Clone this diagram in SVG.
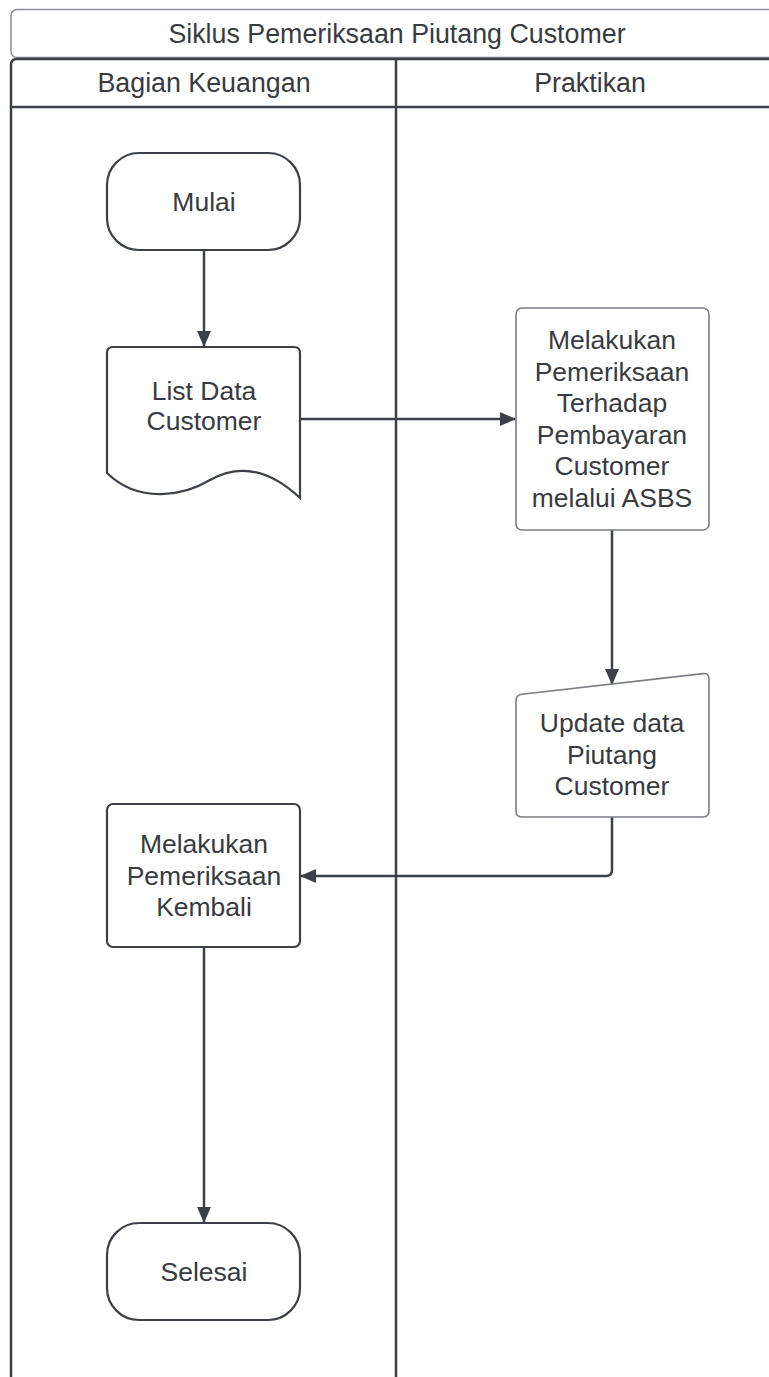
<svg xmlns="http://www.w3.org/2000/svg" width="769" height="1377" viewBox="0 0 769 1377">
  <defs>
    <style>
      .lbl { font-family: "Liberation Sans", Arial, sans-serif; font-size: 26.5px; fill: #383b40; text-anchor: middle; }
      .hdr { font-size: 26.8px; }
      .lane { fill: none; stroke: #3d4147; stroke-width: 2.5; }
      .node { fill: #ffffff; stroke: #3d4147; stroke-width: 2.2; }
      .node-light { fill: #ffffff; stroke: #7a7d82; stroke-width: 1.6; }
      .edge { fill: none; stroke: #3d4147; stroke-width: 2.5; }
    </style>
    <marker id="arrow" viewBox="0 0 16 14" refX="15" refY="7" markerWidth="16" markerHeight="14" markerUnits="userSpaceOnUse" orient="auto">
      <path d="M0,0 L16,7 L0,14 Z" fill="#3d4147"/>
    </marker>
  </defs>

  <rect width="769" height="1377" fill="#ffffff"/>

  <!-- swimlane pool: title bar, lane headers and lane dividers -->
  <g id="pool">
    <rect x="11" y="9.5" width="773" height="48" rx="6" fill="#ffffff" stroke="#8a8d92" stroke-width="1.5"/>
    <text class="lbl hdr" x="397" y="43">Siklus Pemeriksaan Piutang Customer</text>
    <path class="lane" d="M11,1390 V65 Q11,59 17,59 H790"/>
    <line class="lane" x1="11" y1="107" x2="790" y2="107"/>
    <line class="lane" x1="396" y1="59" x2="396" y2="1390"/>
    <text class="lbl hdr" x="204" y="92">Bagian Keuangan</text>
    <text class="lbl hdr" x="590" y="92">Praktikan</text>
  </g>

  <!-- connectors -->
  <g id="connectors">
    <line class="edge" x1="204" y1="250" x2="204" y2="346" marker-end="url(#arrow)"/>
    <line class="edge" x1="300" y1="419" x2="515" y2="419" marker-end="url(#arrow)"/>
    <line class="edge" x1="612" y1="530" x2="612" y2="684" marker-end="url(#arrow)"/>
    <path class="edge" d="M612,817 V870 Q612,876 606,876 H301" marker-end="url(#arrow)"/>
    <line class="edge" x1="204" y1="947" x2="204" y2="1222" marker-end="url(#arrow)"/>
  </g>

  <g id="mulai">
    <rect class="node" x="107" y="153" width="193" height="97" rx="32"/>
    <text class="lbl" x="204" y="211">Mulai</text>
  </g>

  <g id="list-data-customer">
    <path class="node" d="M107,473 V353 Q107,347 113,347 H294 Q300,347 300,353 V498 C270,470 240,463 210,480 C185,495 140,505 107,473 Z"/>
    <text class="lbl" x="204" y="400">List Data</text>
    <text class="lbl" x="204" y="430">Customer</text>
  </g>

  <g id="pemeriksaan-pembayaran">
    <rect class="node-light" x="516" y="308" width="193" height="222" rx="6"/>
    <text class="lbl" x="612" y="349">Melakukan</text>
    <text class="lbl" x="612" y="380.5">Pemeriksaan</text>
    <text class="lbl" x="612" y="412">Terhadap</text>
    <text class="lbl" x="612" y="443.5">Pembayaran</text>
    <text class="lbl" x="612" y="475">Customer</text>
    <text class="lbl" x="612" y="506.5">melalui ASBS</text>
  </g>

  <g id="update-data">
    <path class="node-light" d="M516,701 Q516,695 522,694.3 L703,673.6 Q709,673 709,679 V811 Q709,817 703,817 H522 Q516,817 516,811 Z"/>
    <text class="lbl" x="612" y="732">Update data</text>
    <text class="lbl" x="612" y="763.5">Piutang</text>
    <text class="lbl" x="612" y="795">Customer</text>
  </g>

  <g id="pemeriksaan-kembali">
    <rect class="node" x="107" y="804" width="193" height="143" rx="6"/>
    <text class="lbl" x="204" y="853">Melakukan</text>
    <text class="lbl" x="204" y="884.5">Pemeriksaan</text>
    <text class="lbl" x="204" y="916">Kembali</text>
  </g>

  <g id="selesai">
    <rect class="node" x="107" y="1223" width="193" height="97" rx="32"/>
    <text class="lbl" x="204" y="1281">Selesai</text>
  </g>
</svg>
